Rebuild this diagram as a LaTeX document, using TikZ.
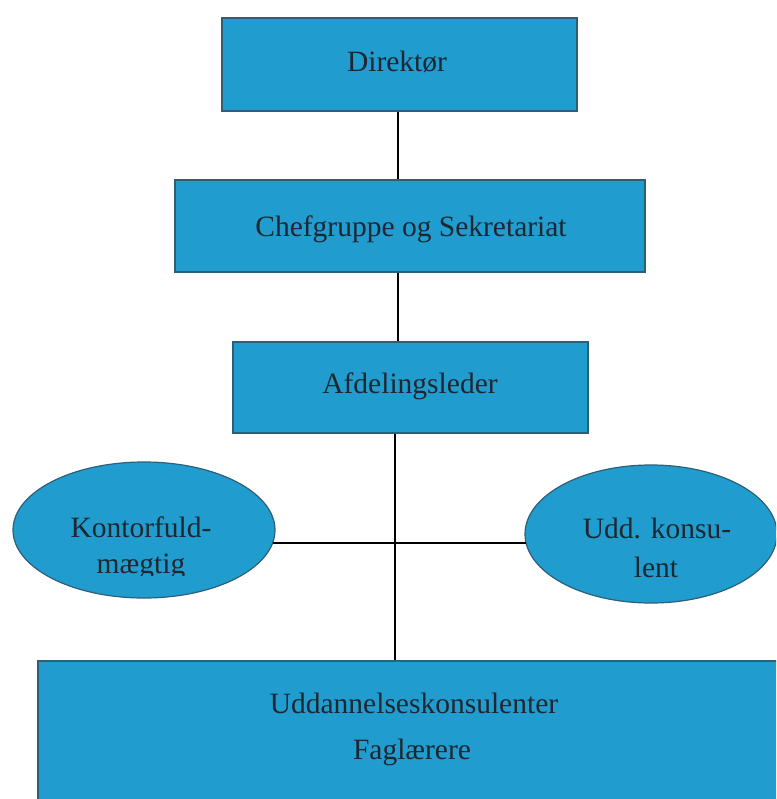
\documentclass[tikz,border=0pt]{standalone}
\usepackage{fontspec}
\setmainfont{Liberation Serif}
\usetikzlibrary{shapes.geometric}
\definecolor{boxfill}{RGB}{33,156,207}
\definecolor{boxline}{RGB}{45,95,120}
\definecolor{txt}{RGB}{30,38,48}
\tikzset{
  orgbox/.style={draw=boxline, line width=1.2pt, fill=boxfill, rectangle, inner sep=0pt},
  orgell/.style={draw=boxline, line width=1.2pt, fill=boxfill, ellipse, inner sep=0pt},
  lbl/.style={anchor=base, inner sep=0pt, text=txt, font=\fontsize{29.5}{34}\selectfont},
  conn/.style={draw=black, line width=1.4pt}
}
\begin{document}
\begin{tikzpicture}[x=1pt,y=-1pt]
\useasboundingbox (0,0) rectangle (776,799);
\clip (0,0) rectangle (776,799);
\fill[white] (0,0) rectangle (776,799);
% boxes
\node[orgbox, minimum width=355pt, minimum height=93pt] (dir) at (399.5,64.5) {};
\node[orgbox, minimum width=470pt, minimum height=92pt] (chef) at (410,226) {};
\node[orgbox, minimum width=355pt, minimum height=91pt] (afd) at (410.5,387.5) {};
\node[orgell, minimum width=262pt, minimum height=136pt] (kont) at (144,530) {};
\node[orgell, minimum width=252pt, minimum height=138pt] (udd) at (651,534) {};
\node[orgbox, minimum width=760pt, minimum height=180pt] (bot) at (418,751) {};
% junction helpers
\coordinate (v) at (398,0);
\coordinate (j) at (395,543);
% connectors
\draw[conn] (v |- dir.south) -- (v |- chef.north);
\draw[conn] (v |- chef.south) -- (v |- afd.north);
\draw[conn] (j |- afd.south) -- (j |- bot.north);
\draw[conn] (272.5,543) -- (j) -- (526,543);
% texts
\node[lbl] (tdir) at (397,72) {Direktør};
\node[lbl] (tchef) at (411,237) {Chefgruppe og Sekretariat};
\node[lbl] (tafd) at (410,393) {Afdelingsleder};
\node[lbl] (tkont1) at (141,537) {Kontorfuld-};
\begin{scope}
\clip (60,548) rectangle (230,575.5);
\node[lbl] (tkont2) at (141,573) {mægtig};
\end{scope}
\node[lbl] (tudd1) at (657,538) {Udd. konsu-};
\node[lbl] (tudd2) at (656,577) {lent};
\node[lbl] (tbot1) at (414,713) {Uddannelseskonsulenter};
\node[lbl] (tbot2) at (412,759) {Faglærere};
\end{tikzpicture}
\end{document}
